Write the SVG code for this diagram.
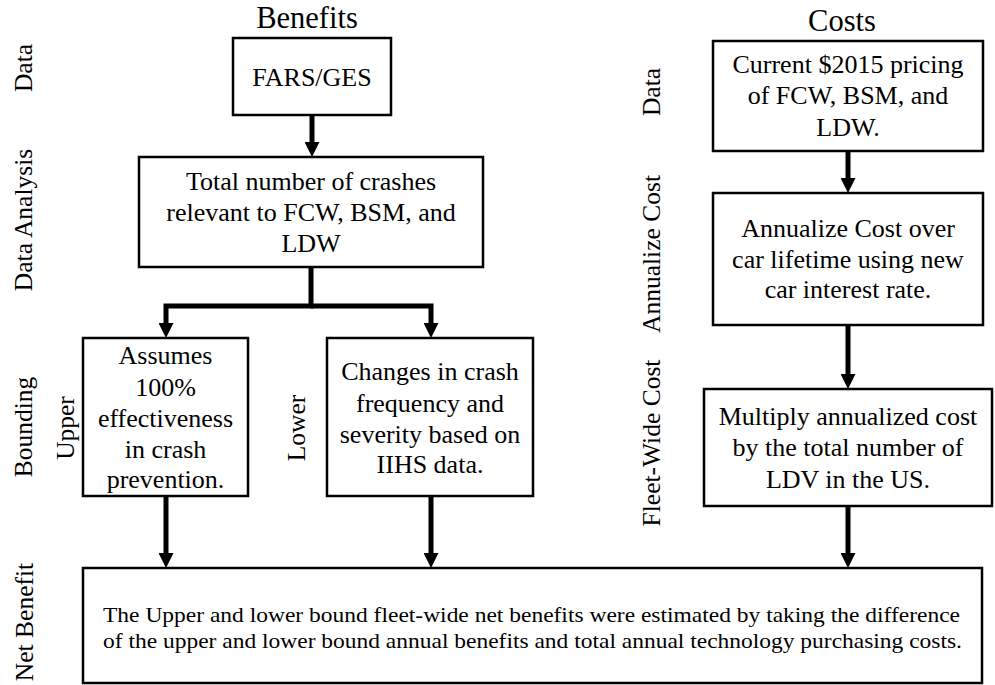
<svg xmlns="http://www.w3.org/2000/svg" width="995" height="685" viewBox="0 0 995 685">
<defs>
<style>
text{font-family:"Liberation Serif","Times New Roman",serif;fill:#000}
.box{fill:#fff;stroke:#000;stroke-width:2.5}
.t{font-size:26px;text-anchor:middle}
.h{font-size:30.5px;text-anchor:middle}
.v{font-size:25.5px;text-anchor:middle}
.c{fill:none;stroke:#000;stroke-width:5;stroke-linejoin:miter}
</style>
<marker id="ah" markerUnits="userSpaceOnUse" viewBox="0 -7.5 15 15" markerWidth="15" markerHeight="15" refX="0" refY="0" orient="auto">
<path d="M0,-7.5 L15,0 L0,7.5 z" fill="#000"/>
</marker>
</defs>
<rect width="995" height="685" fill="#fff"/>

<g id="labels">
<text class="h" x="307" y="28">Benefits</text>
<text class="h" x="842" y="31">Costs</text>
<text class="v" transform="translate(32,68) rotate(-90)">Data</text>
<text class="v" transform="translate(32,220) rotate(-90)">Data Analysis</text>
<text class="v" transform="translate(32,427) rotate(-90)">Bounding</text>
<text class="v" transform="translate(74,428) rotate(-90)">Upper</text>
<text class="v" transform="translate(305,428) rotate(-90)">Lower</text>
<text class="v" transform="translate(33,622) rotate(-90)">Net Benefit</text>
<text class="v" transform="translate(660,92) rotate(-90)">Data</text>
<text class="v" transform="translate(660,254) rotate(-90)">Annualize Cost</text>
<text class="v" transform="translate(660,443) rotate(-90)">Fleet-Wide Cost</text>
</g>

<g id="connectors">
<path class="c" d="M312,115 V142" marker-end="url(#ah)"/>
<path class="c" d="M311,267 V306 H166 V323" marker-end="url(#ah)"/>
<path class="c" d="M311,306 H431 V323" marker-end="url(#ah)"/>
<path class="c" d="M166,496 V553" marker-end="url(#ah)"/>
<path class="c" d="M431,496 V553" marker-end="url(#ah)"/>
<path class="c" d="M848,151 V178" marker-end="url(#ah)"/>
<path class="c" d="M848,325 V374" marker-end="url(#ah)"/>
<path class="c" d="M848,506 V553" marker-end="url(#ah)"/>
</g>

<g id="fars">
<rect class="box" x="233" y="38" width="158" height="77"/>
<text class="t" x="312" y="86">FARS/GES</text>
</g>

<g id="analysis">
<rect class="box" x="139" y="157" width="344" height="110"/>
<text class="t" x="311" y="190">Total number of crashes</text>
<text class="t" x="311" y="221">relevant to FCW, BSM, and</text>
<text class="t" x="311" y="252">LDW</text>
</g>

<g id="upper">
<rect class="box" x="83" y="338" width="165" height="158"/>
<text class="t" x="165.5" y="364">Assumes</text>
<text class="t" x="165.5" y="396">100%</text>
<text class="t" x="165.5" y="427">effectiveness</text>
<text class="t" x="165.5" y="458">in crash</text>
<text class="t" x="165.5" y="488">prevention.</text>
</g>

<g id="lower">
<rect class="box" x="327" y="338" width="206" height="158"/>
<text class="t" x="430" y="380">Changes in crash</text>
<text class="t" x="430" y="412">frequency and</text>
<text class="t" x="430" y="443">severity based on</text>
<text class="t" x="430" y="473">IIHS data.</text>
</g>

<g id="cost-data">
<rect class="box" x="713" y="41" width="270" height="110"/>
<text class="t" x="848" y="73">Current $2015 pricing</text>
<text class="t" x="848" y="104">of FCW, BSM, and</text>
<text class="t" x="848" y="136">LDW.</text>
</g>

<g id="annualize">
<rect class="box" x="713" y="193" width="270" height="132"/>
<text class="t" x="848" y="237">Annualize Cost over</text>
<text class="t" x="848" y="268">car lifetime using new</text>
<text class="t" x="848" y="298">car interest rate.</text>
</g>

<g id="fleet">
<rect class="box" x="704" y="389" width="288" height="117"/>
<text class="t" x="848" y="425">Multiply annualized cost</text>
<text class="t" x="848" y="456">by the total number of</text>
<text class="t" x="848" y="488">LDV in the US.</text>
</g>

<g id="net">
<rect class="box" x="83" y="568" width="899" height="115"/>
<text x="103" y="622" font-size="22" textLength="857" lengthAdjust="spacingAndGlyphs">The Upper and lower bound fleet-wide net benefits were estimated by taking the difference</text>
<text x="103" y="648" font-size="22" textLength="859" lengthAdjust="spacingAndGlyphs">of the upper and lower bound annual benefits and total annual technology purchasing costs.</text>
</g>
</svg>
